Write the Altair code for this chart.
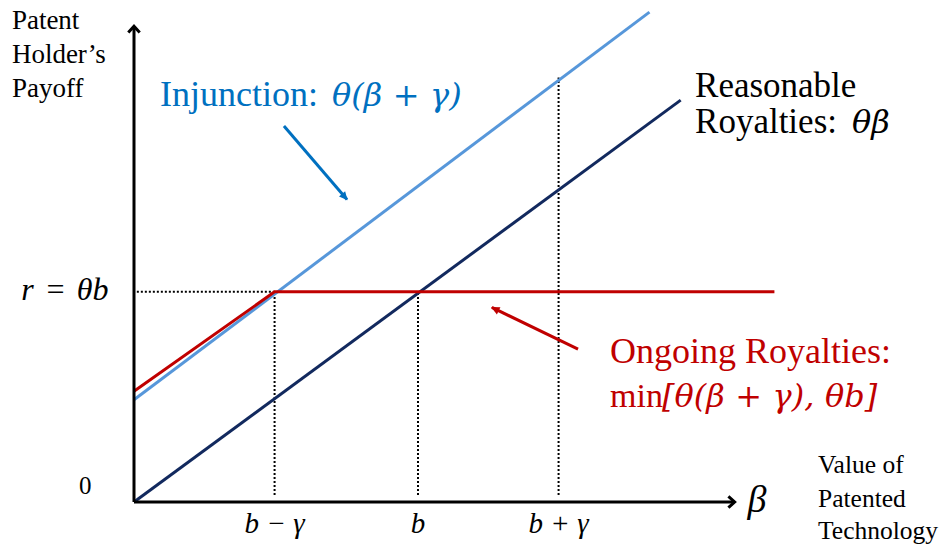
import math
import altair as alt
import pandas as pd

# ---- data (in units of gamma; theta ~ 0.74, b = 2*gamma) ----
navy_x = [0.0, 3.85]
navy_y = [0.0, 2.83]
blue_x = [0.0, 3.63]
blue_y = [0.72, 3.45]
red_x = [0.0, 0.99, 4.51]
red_y = [0.78, 1.48, 1.48]

tick_x = [0.99, 2.0, 2.99]
tick_labels = ["b − γ", "b", "b + γ"]
tick_tops = [1.48, 1.48, 2.99]
r_level = 1.48

PX = 142.0          # pixels per unit
W, H = 800, 494
xs = alt.Scale(domain=[0, W / PX], range=[0, W], nice=False, zero=False)
ys = alt.Scale(domain=[0, H / PX], range=[H, 0], nice=False, zero=False)

def X(f="x"):
    return alt.X(f"{f}:Q", scale=xs, axis=None)

def Y(f="y"):
    return alt.Y(f"{f}:Q", scale=ys, axis=None)

NAVY = "#12295E"
LBLUE = "#5797DA"
RED = "#C00000"
TBLUE = "#0070C0"
SERIF = "Liberation Serif"
MATH = "DejaVu Serif"

lines_df = pd.DataFrame(
    [{"s": "navy", "x": a, "y": b, "o": i} for i, (a, b) in enumerate(zip(navy_x, navy_y))]
    + [{"s": "blue", "x": a, "y": b, "o": i} for i, (a, b) in enumerate(zip(blue_x, blue_y))]
    + [{"s": "red", "x": a, "y": b, "o": i} for i, (a, b) in enumerate(zip(red_x, red_y))]
)
lines = alt.Chart(lines_df).mark_line(strokeWidth=3).encode(
    x=X(), y=Y(), order="o:Q",
    color=alt.Color("s:N", scale=alt.Scale(domain=["navy", "blue", "red"], range=[NAVY, LBLUE, RED]), legend=None),
)

# dotted guides
dots = [{"x": 0.02, "y": r_level, "x2": tick_x[0], "y2": r_level}]
for tx, top in zip(tick_x, tick_tops):
    dots.append({"x": tx, "y": 0.05, "x2": tx, "y2": top})
dotted = alt.Chart(pd.DataFrame(dots)).mark_rule(strokeWidth=2, strokeDash=[2, 2], color="black").encode(
    x=X(), y=Y(), x2="x2:Q", y2="y2:Q"
)

# axes
axes_df = pd.DataFrame([
    {"x": 0, "y": 0, "x2": 0, "y2": 3.34},
    {"x": 0, "y": 0, "x2": 4.22, "y2": 0},
])
axes = alt.Chart(axes_df).mark_rule(strokeWidth=3, color="black").encode(
    x=X(), y=Y(), x2="x2:Q", y2="y2:Q"
)
heads_df = pd.DataFrame([
    {"x": 0, "y": 3.35, "a": 0},
    {"x": 4.23, "y": 0, "a": 90},
])
heads = alt.Chart(heads_df).mark_point(
    shape="M-1,1.1L0,0L1,1.1", filled=False, strokeWidth=3, color="black", size=130, opacity=1
).encode(x=X(), y=Y(), angle=alt.Angle("a:Q", scale=None))

# annotation arrows
arrows = [
    {"x": 1.056, "y": 2.648, "x2": 1.50, "y2": 2.13, "c": TBLUE},
    {"x": 3.127, "y": 1.077, "x2": 2.52, "y2": 1.37, "c": RED},
]
for a in arrows:
    dx = a["x2"] - a["x"]
    dy = a["y2"] - a["y"]
    a["a"] = (math.degrees(math.atan2(dx, dy)) + 360) % 360
arr_df = pd.DataFrame(arrows)
arr_lines = alt.Chart(arr_df).mark_rule(strokeWidth=3).encode(
    x=X(), y=Y(), x2="x2:Q", y2="y2:Q", color=alt.Color("c:N", scale=None)
)
arr_heads = alt.Chart(arr_df).mark_point(
    shape="M0,-0.2L-0.85,1.6L0.85,1.6Z", filled=True, size=90, opacity=1
).encode(
    x=X("x2"), y=Y("y2"), angle=alt.Angle("a:Q", scale=None),
    color=alt.Color("c:N", scale=None),
)

# text annotations
SP = "\u2004"  # wider space for math operators
texts = [
    # text, x, y, color, size, font, style, align
    ("Patent", -0.86, 3.331, "black", 27, SERIF, "normal", "left"),
    ("Holder’s", -0.86, 3.092, "black", 27, SERIF, "normal", "left"),
    ("Payoff", -0.86, 2.852, "black", 27, SERIF, "normal", "left"),
    ("0", -0.30, 0.056, "black", 25, SERIF, "normal", "right"),
    (f"r{SP}={SP}θb", -0.18, 1.423, "black", 32, SERIF, "italic", "right"),
    (tick_labels[0], tick_x[0], -0.218, "black", 29, SERIF, "italic", "center"),
    (tick_labels[1], tick_x[1], -0.218, "black", 29, SERIF, "italic", "center"),
    (tick_labels[2], tick_x[2], -0.218, "black", 29, SERIF, "italic", "center"),
    ("β", 4.32, -0.07, "black", 38, SERIF, "italic", "left"),
    ("Value of", 4.817, 0.204, "black", 25.5, SERIF, "normal", "left"),
    ("Patented", 4.817, -0.035, "black", 25.5, SERIF, "normal", "left"),
    ("Technology", 4.817, -0.261, "black", 25.5, SERIF, "normal", "left"),
    ("Injunction:", 0.183, 2.789, TBLUE, 36, SERIF, "normal", "left"),
    (f"θ(β{SP}+{SP}γ)", 1.394, 2.789, TBLUE, 32, MATH, "italic", "left"),
    ("Reasonable", 3.951, 2.852, "black", 35, SERIF, "normal", "left"),
    ("Royalties:", 3.951, 2.599, "black", 35, SERIF, "normal", "left"),
    ("θβ", 5.056, 2.599, "black", 32, MATH, "italic", "left"),
    ("Ongoing Royalties:", 3.352, 0.979, RED, 36, SERIF, "normal", "left"),
    ("min", 3.352, 0.669, RED, 34, SERIF, "normal", "left"),
    (f"[θ(β{SP}+{SP}γ),{SP}θb]", 3.718, 0.669, RED, 32, MATH, "italic", "left"),
]
tdf = pd.DataFrame(texts, columns=["t", "x", "y", "c", "s", "f", "st", "al"])

text_layers = []
for (f, st, al), g in tdf.groupby(["f", "st", "al"]):
    text_layers.append(
        alt.Chart(g).mark_text(font=f, fontStyle=st, align=al, baseline="alphabetic").encode(
            x=X(), y=Y(), text="t:N",
            color=alt.Color("c:N", scale=None),
            size=alt.Size("s:Q", scale=None),
        )
    )

chart = alt.layer(dotted, lines, axes, heads, arr_lines, arr_heads, *text_layers).properties(
    width=W, height=H,
    padding={"left": 126, "top": 0, "right": 8, "bottom": 46},
    autosize="none",
    background="white",
).configure_view(stroke=None)

chart.save("out.html", embed_options={"renderer": "svg", "actions": False})
